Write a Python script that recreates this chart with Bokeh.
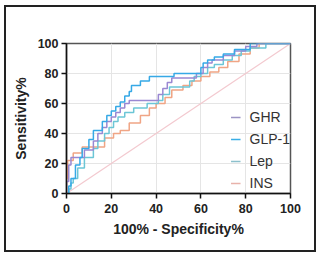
from bokeh.plotting import figure
from bokeh.models import Range1d, Legend, LegendItem, FixedTicker
from bokeh.embed import file_html
from bokeh.resources import INLINE

# ROC step levels (FPR %, TPR %)
ghr_x = [0, 0, 1, 2, 8, 12, 14, 16, 18, 20, 22, 24, 26, 28, 41, 43, 45, 47, 58, 61, 63, 65, 70, 75, 80, 85, 100]
ghr_y = [0, 8, 19, 24, 29, 35, 40, 44, 48, 51, 54, 57, 60, 62, 66, 70, 74, 77, 80, 84, 87, 89, 92, 95, 98, 100, 100]

glp_x = [0, 1, 2, 4, 6, 7, 10, 12, 16, 18, 20, 22, 24, 26, 28, 29, 33, 37, 48, 60, 61, 63, 66, 70, 75, 82, 100]
glp_y = [0, 5, 10, 19, 24, 30, 36, 42, 48, 52, 55, 58, 61, 65, 68, 72, 75, 78, 80, 84, 87, 89, 91, 93, 96, 100, 100]

lep_x = [0, 1, 2, 3, 5, 8, 12, 14, 17, 19, 21, 23, 26, 30, 36, 41, 43, 46, 55, 57, 60, 63, 66, 70, 74, 78, 82, 89, 100]
lep_y = [0, 3, 7, 10, 17, 24, 30, 35, 40, 44, 48, 51, 54, 57, 60, 62, 66, 71, 75, 78, 80, 84, 86, 89, 92, 95, 97, 100, 100]

ins_x = [0, 0, 0.5, 3, 7, 17, 21, 24, 28, 33, 37, 40, 44, 47, 52, 56, 60, 64, 68, 72, 77, 82, 86, 100]
ins_y = [0, 10, 22, 27, 31, 37, 40, 42, 47, 52, 57, 60, 64, 69, 72, 75, 78, 81, 84, 88, 93, 97, 100, 100]

ref_x = [0, 100]
ref_y = [0, 100]

names = ["GHR", "GLP-1", "Lep", "INS"]
colors = ["#9a88d2", "#36a9e6", "#6cc6d6", "#f0a585"]
legend_colors = ["#9c94c4", "#3aaee6", "#8cc0cc", "#e8b2aa"]
ticks = [0, 20, 40, 60, 80, 100]

FONT = "Liberation Sans"

p = figure(width=320, height=255, output_backend="svg", toolbar_location=None,
           x_range=Range1d(0, 100), y_range=Range1d(0, 100),
           frame_width=224, frame_height=150)
p.min_border_left = 66
p.min_border_right = 30
p.min_border_top = 43
p.min_border_bottom = 62
p.background_fill_color = "white"
p.border_fill_color = None
p.styles = {"background-color": "white",
            "box-shadow": "inset 4px 5px 0 0 white, inset -4px -3px 0 0 white, "
                          "inset 6px 7px 0 0 #222222, inset -6px -5px 0 0 #222222"}

p.line(ref_x, ref_y, line_color="#f3c9cf", line_width=1.2)

p.outline_line_color = "#555555"
p.outline_line_width = 1.5

series = [(ghr_x, ghr_y), (glp_x, glp_y), (lep_x, lep_y), (ins_x, ins_y)]
order = [3, 2, 0, 1]
for i in order:
    xs, ys = series[i]
    p.step(xs, ys, mode="after", line_color=colors[i], line_width=1.5)

# legend with hidden proxy renderers
items = []
for i, n in enumerate(names):
    r = p.line([0], [0], line_color=legend_colors[i], line_width=1.5)
    r.visible = False
    items.append(LegendItem(label=n, renderers=[r]))
leg = Legend(items=items, location="bottom_right")
leg.border_line_color = None
leg.background_fill_alpha = 0
leg.label_text_font = FONT
leg.label_text_font_size = "14px"
leg.label_text_color = "#333333"
leg.glyph_width = 10
leg.glyph_height = 20
leg.label_height = 20
leg.spacing = 2
leg.label_standoff = 9
leg.padding = 1
leg.margin = 0
p.add_layout(leg)

for ax in (p.xaxis[0], p.yaxis[0]):
    ax.ticker = FixedTicker(ticks=ticks)
    ax.minor_tick_line_color = None
    ax.major_tick_in = 0
    ax.major_tick_out = 5
    ax.major_tick_line_width = 1.5
    ax.axis_line_width = 1.5
    ax.axis_line_color = "#111111"
    ax.major_tick_line_color = "#111111"
    ax.major_label_text_font = FONT
    ax.major_label_text_font_style = "bold"
    ax.major_label_text_font_size = "12.5px"
    ax.major_label_text_color = "#222222"
    ax.axis_label_text_font = FONT
    ax.axis_label_text_font_style = "bold"
    ax.axis_label_text_font_size = "14px"
    ax.axis_label_text_color = "#222222"

p.xaxis.axis_label = "100% - Specificity%"
p.yaxis.axis_label = "Sensitivity%"
p.xaxis.major_label_standoff = 5
p.yaxis.major_label_standoff = 3
p.xaxis.axis_label_standoff = 5
p.yaxis.axis_label_standoff = 6

open("out.html", "w").write(file_html(p, INLINE))
